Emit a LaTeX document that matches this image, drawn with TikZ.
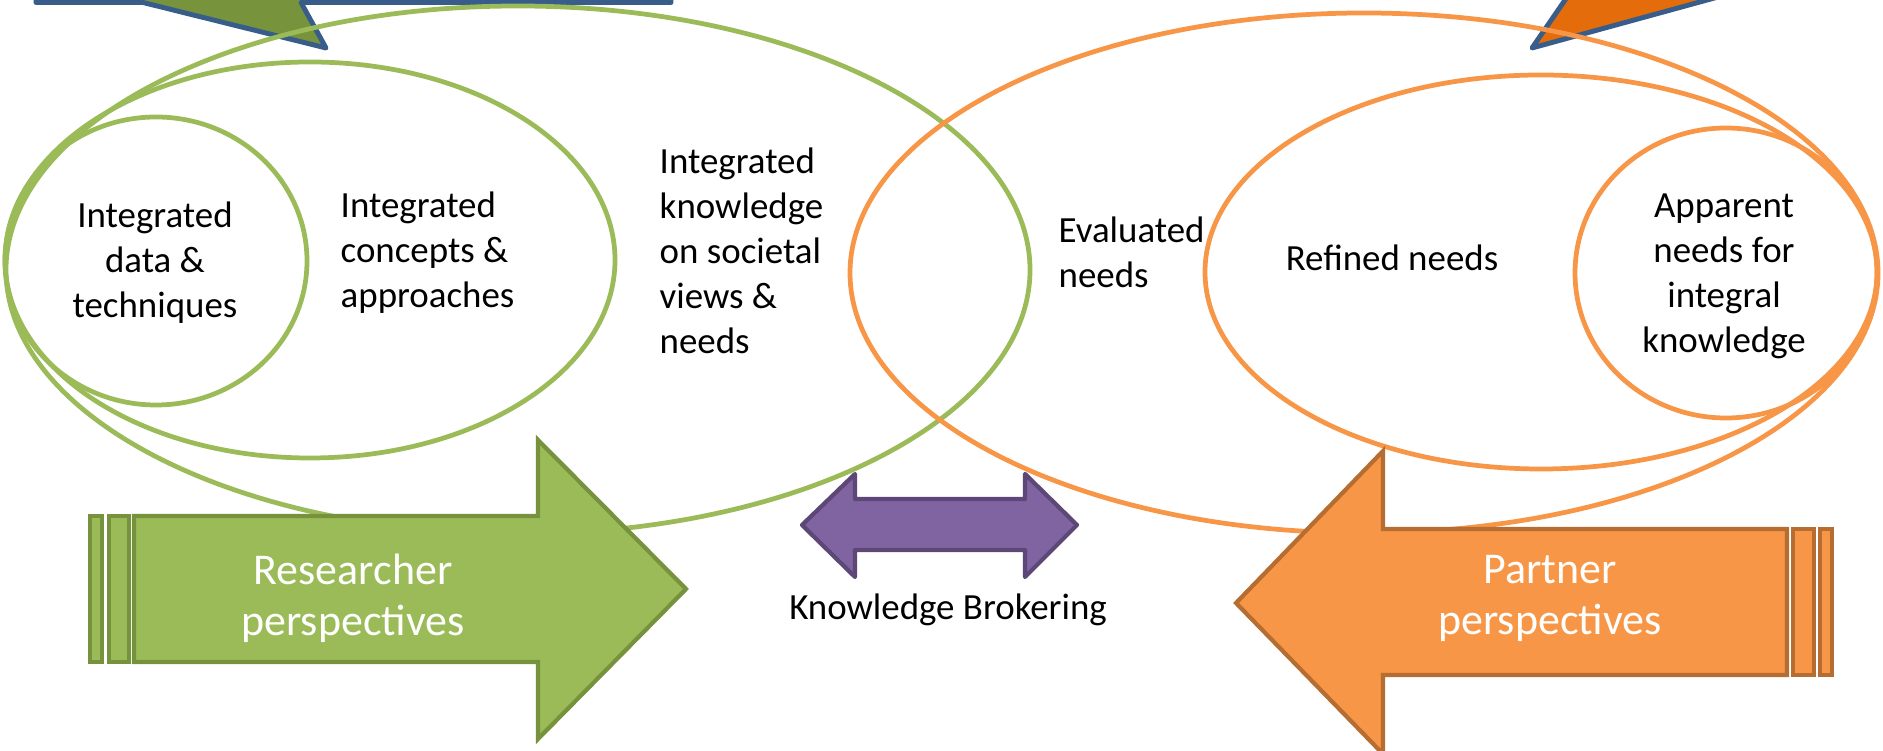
\documentclass[tikz,border=0pt]{standalone}
\usepackage{fontspec}
\setmainfont{Carlito}
\usepackage{tikz}
\definecolor{grn}{HTML}{9BBB59}
\definecolor{grndark}{HTML}{76923C}
\definecolor{grnptr}{HTML}{77933C}
\definecolor{org}{HTML}{F79646}
\definecolor{orgdark}{HTML}{B66D31}
\definecolor{orgptr}{HTML}{E46C0A}
\definecolor{ptrblue}{HTML}{385D8A}
\definecolor{pur}{HTML}{8064A2}
\definecolor{purdark}{HTML}{5C4776}
\tikzset{
 ring/.style={line width=1.35pt},
 arr/.style={line width=1.2pt, line join=miter},
 ptr/.style={line width=1.4pt, line join=round, draw=ptrblue},
 lbl/.style={font=\fontsize{10.5}{12.8}\selectfont, align=left, inner sep=0pt},
 big/.style={font=\fontsize{12.5}{14.5}\selectfont, text=white, align=center, inner sep=0pt},
}

\begin{document}
\begin{tikzpicture}
\useasboundingbox (0,0) rectangle (18.83,7.51);
\clip (0,0) rectangle (18.83,7.51);
 \filldraw[ptr, fill=grnptr] (0.36,7.9) -- (0.36,7.485) -- (1.43,7.485) -- (3.26,7.03) -- (3.01,7.485) -- (6.71,7.485) -- (6.71,7.9) -- cycle;
 \filldraw[ptr, fill=orgptr] (15.85,7.8) -- (15.32,7.03) -- (18.13,7.8) -- cycle;
 \draw[ring, color=grn] (5.18,4.81) ellipse (5.12 and 2.64);
 \draw[ring, color=grn] (3.10,4.91) ellipse (3.05 and 1.98);
 \draw[ring, color=grn] (1.56,4.90) ellipse (1.51 and 1.44);
 \draw[ring, color=org] (13.64,4.78) ellipse (5.14 and 2.60);
 \draw[ring, color=org] (15.41,4.79) ellipse (3.36 and 1.97);
 \draw[ring, color=org] (17.26,4.78) ellipse (1.51 and 1.45);
 \filldraw[arr, fill=grn, draw=grndark] (1.34,2.35) -- (5.38,2.35) -- (5.38,3.11) -- (6.86,1.62) -- (5.38,0.12) -- (5.38,0.89) -- (1.34,0.89) -- cycle;
 \filldraw[arr, fill=grn, draw=grndark] (0.90,0.89) rectangle (1.02,2.35);
 \filldraw[arr, fill=grn, draw=grndark] (1.09,0.89) rectangle (1.29,2.35);
 \filldraw[arr, fill=org, draw=orgdark] (17.87,2.22) -- (13.83,2.22) -- (13.83,3.00) -- (12.36,1.48) -- (13.83,-0.03) -- (13.83,0.76) -- (17.87,0.76) -- cycle;
 \filldraw[arr, fill=org, draw=orgdark] (17.93,0.76) rectangle (18.14,2.22);
 \filldraw[arr, fill=org, draw=orgdark] (18.20,0.76) rectangle (18.32,2.22);
 \filldraw[arr, fill=pur, draw=purdark, line join=round] (8.02,2.26) -- (8.55,2.77) -- (8.55,2.52) -- (10.25,2.52) -- (10.25,2.77) -- (10.77,2.26) -- (10.25,1.74) -- (10.25,2.01) -- (8.55,2.01) -- (8.55,1.74) -- cycle;
 \node[lbl, align=center] (dat) at (1.55,4.88) {Integrated\\data \&\\techniques};
 \node[lbl, anchor=west] (con) at (3.40,4.98) {Integrated\\concepts \&\\approaches};
 \node[lbl, anchor=west] (kno) at (6.59,5.00) {Integrated\\knowledge\\on societal\\views \&\\needs};
 \node[lbl, anchor=west] (eva) at (10.58,4.985) {Evaluated\\needs};
 \node[lbl] (ref) at (13.92,4.93) {Refined needs};
 \node[lbl, align=center] (app) at (17.24,4.75) {Apparent\\needs for\\integral\\knowledge};
 \node[big] (res) at (3.53,1.53) {Researcher\\perspectives};
 \node[big] (par) at (15.50,1.53) {Partner\\perspectives};
 \node[lbl] (kb) at (9.48,1.41) {Knowledge Brokering};
\end{tikzpicture}
\end{document}
